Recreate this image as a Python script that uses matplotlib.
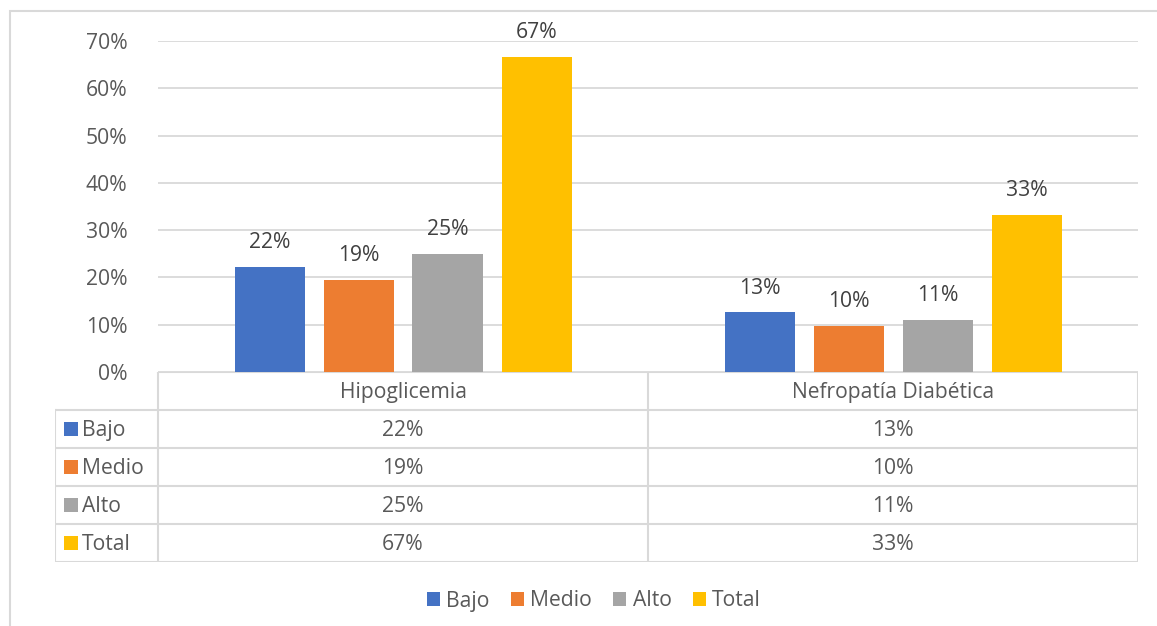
import numpy as np
import matplotlib
matplotlib.use('Agg')
import matplotlib.pyplot as plt
from matplotlib.patches import Rectangle

# datos
categorias = ['Hipoglicemia', 'Nefropatía Diabética']
series = ['Bajo', 'Medio', 'Alto', 'Total']
bajo = [0.222, 0.126]
medio = [0.194, 0.097]
alto = [0.250, 0.111]
total = [0.667, 0.333]
colores = ['#4472C4', '#ED7D31', '#A5A5A5', '#FFC000']

valores = [bajo, medio, alto, total]
gris = '#595959'
linea = '#D9D9D9'
plt.rcParams['font.family'] = ['Open Sans', 'DejaVu Sans']
fs = 15.2

W, H = 1157, 626
fig = plt.figure(figsize=(W/100, H/100), dpi=100)

# borde exterior
fig.patches.append(Rectangle((10/W, -0.1), 1.2, 1 - 11/H + 0.1, transform=fig.transFigure,
                             fill=False, edgecolor=linea, linewidth=1.5))

# ejes de barras
ax = fig.add_axes([158/W, 1 - 372/H, 980/W, 331/H])
x = np.arange(len(categorias)) + 0.5
ancho = 70/490
paso = 89/490
for i, (nombre, vals) in enumerate(zip(series, valores)):
    pos = x + (i - 1.5)*paso
    barras = ax.bar(pos, vals, ancho, color=colores[i], label=nombre, zorder=3)
    for b, v in zip(barras, vals):
        ax.annotate('{:.0f}%'.format(v*100 + 1e-9), (b.get_x() + b.get_width()/2, v),
                    xytext=(0, 10), textcoords='offset points', ha='center', va='bottom',
                    fontsize=fs, color='#404040')
ax.set_xlim(0, 2)
ax.set_ylim(0, 0.7)
ax.set_yticks(np.arange(0, 0.71, 0.1))
ax.set_yticklabels(['{:.0f}%'.format(t*100) for t in np.arange(0, 0.71, 0.1)])
ax.tick_params(axis='y', length=0, labelsize=fs, labelcolor=gris, pad=22)
ax.set_xticks([])
ax.grid(axis='y', color=linea, linewidth=1.3, zorder=0)
for s in ax.spines.values():
    s.set_visible(False)

# tabla de datos
axt = fig.add_axes([55/W, 1 - 562/H, 1083/W, 190/H])
izq = -103/490
axt.set_xlim(izq, 2)
axt.set_ylim(5, 0)
axt.axis('off')
lw = 1.5
# líneas horizontales
axt.plot([0, 2], [0, 0], color=linea, lw=lw)
for r in range(1, 6):
    axt.plot([izq, 2], [r, r], color=linea, lw=lw)
# líneas verticales
axt.plot([izq, izq], [1, 5], color=linea, lw=lw)
for c in [0, 1, 2]:
    axt.plot([c, c], [0, 5], color=linea, lw=lw)
dy = 0.05
for j, cat in enumerate(categorias):
    axt.text(j + 0.5, 0.5 + dy, cat, ha='center', va='center', fontsize=fs, color=gris)
for i, (nombre, vals) in enumerate(zip(series, valores)):
    y = i + 1.5
    axt.add_patch(Rectangle((izq + 9/490, y - 0.18), 14/490, 0.36, color=colores[i], lw=0))
    axt.text(izq + 27/490, y + dy, nombre, ha='left', va='center', fontsize=fs, color=gris)
    for j, v in enumerate(vals):
        axt.text(j + 0.5, y + dy, '{:.0f}%'.format(v*100 + 1e-9), ha='center', va='center',
                 fontsize=fs, color=gris)

# leyenda inferior
h, l = ax.get_legend_handles_labels()
fig.legend(h, l, loc='center', bbox_to_anchor=(594/W, 1 - 601/H), ncol=4, frameon=False,
           fontsize=fs, labelcolor=gris, handlelength=0.62, handleheight=0.62,
           handletextpad=0.3, columnspacing=1.0)

plt.savefig('out.png', dpi=100)
